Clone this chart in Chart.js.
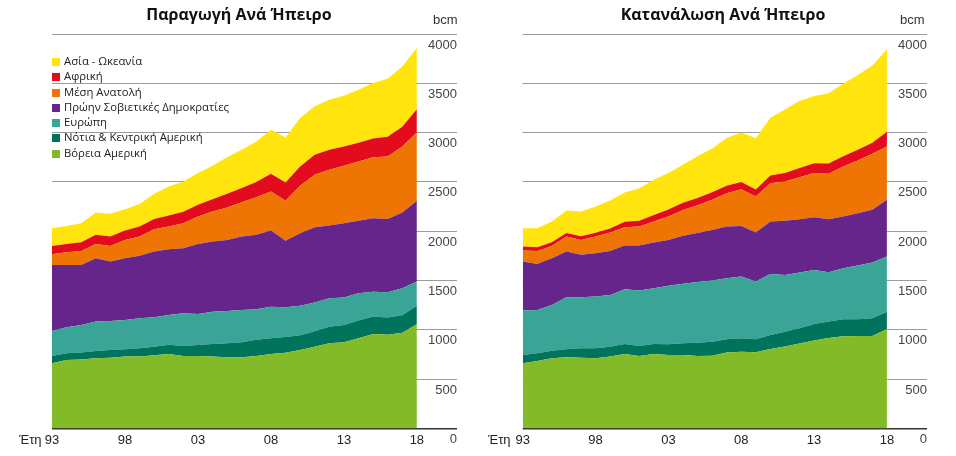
<!DOCTYPE html>
<html>
<head>
<meta charset="utf-8">
<script src="https://cdn.jsdelivr.net/npm/chart.js@4.4.1/dist/chart.umd.min.js"></script>
<style>
  body { margin: 0; background: #fff; }
  #wrap { position: relative; width: 956px; height: 456px; overflow: hidden; }
  .panel { position: absolute; top: 0; width: 478px; height: 456px; }
  .title { position: absolute; top: 3px; font: bold 16px "Open Sans", sans-serif; color: #111; white-space: nowrap; transform: translateX(-50%); }
  .unit { position: absolute; top: 12px; font: 13px "Liberation Sans", Arial, sans-serif; color: #333; }
  .years { position: absolute; top: 432px; font: 13px "Liberation Sans", Arial, sans-serif; color: #222; }
  #legend { position: absolute; left: 52px; top: 53px; font: 11.3px "Open Sans", sans-serif; color: #222; }
  #legend div { height: 15.3px; line-height: 15.3px; white-space: nowrap; }
  #legend span { display: inline-block; width: 8px; height: 8px; margin-right: 4px; vertical-align: -1px; }
</style>
</head>
<body>
<div id="wrap">
  <div class="panel" style="left:0"><canvas id="prodChart" width="478" height="456"></canvas></div>
  <div class="panel" style="left:478px"><canvas id="consChart" width="478" height="456"></canvas></div>
  <div class="title" style="left:239px">Παραγωγή Ανά Ήπειρο</div>
  <div class="title" style="left:723px">Κατανάλωση Ανά Ήπειρο</div>
  <div class="unit" style="left:433px">bcm</div>
  <div class="unit" style="left:900px">bcm</div>
  <div class="years" style="left:19px">Έτη</div>
  <div class="years" style="left:488px">Έτη</div>
  <div id="legend"></div>
</div>
<script>
const years = [1993,1994,1995,1996,1997,1998,1999,2000,2001,2002,2003,2004,2005,2006,2007,2008,2009,2010,2011,2012,2013,2014,2015,2016,2017,2018];
const yearTicks = [1993,1998,2003,2008,2013,2018];

const regions = ['Βόρεια Αμερική','Νότια & Κεντρική Αμερική','Ευρώπη','Πρώην Σοβιετικές Δημοκρατίες','Μέση Ανατολή','Αφρική','Ασία - Ωκεανία'];
const colors = ['#82ba28','#00735d','#3aa597','#66258a','#ee7404','#e30b1e','#ffe50d'];

// Παραγωγή (bcm)
const prodNorthAmerica = [660,694,700,711,717,728,728,741,755,734,734,728,721,721,734,755,768,795,829,863,873,914,958,951,971,1056];
const prodSouthAmerica = [74,67,71,74,78,74,84,88,94,102,112,128,142,154,166,160,160,150,156,169,176,181,177,174,177,189];
const prodEurope = [254,264,278,298,295,298,305,298,302,331,315,328,328,326,308,320,300,300,291,288,278,275,252,256,273,244];
const prodFormerUSSR = [670,633,609,643,602,626,633,667,666,660,710,711,721,745,755,772,674,735,765,737,754,735,745,744,768,819];
const prodMiddleEast = [108,129,142,145,159,186,196,226,230,254,278,305,328,348,382,396,406,480,531,566,582,602,619,633,670,694];
const prodAfrica = [85,84,88,92,95,95,101,105,112,115,118,125,140,145,155,180,186,197,203,203,196,190,190,200,200,236];
const prodAsia = [179,183,193,226,230,216,230,254,294,308,322,338,371,387,410,446,457,490,491,507,515,538,561,588,611,620];

// Κατανάλωση (bcm)
const consNorthAmerica = [660,684,711,721,717,711,728,755,734,755,744,744,734,738,770,778,772,805,830,862,892,918,935,938,938,1008];
const consSouthAmerica = [84,77,77,81,95,101,101,101,102,101,109,119,134,142,133,136,131,142,151,153,167,165,172,169,179,176];
const consEurope = [451,440,464,528,518,525,525,555,562,565,593,604,618,619,620,626,586,620,576,565,548,501,517,544,565,559];
const consFormerUSSR = [497,467,474,464,430,440,446,443,456,464,466,488,497,514,524,514,497,531,548,542,535,538,525,532,535,575];
const consMiddleEast = [112,132,125,152,152,169,186,187,193,213,237,261,280,305,339,372,366,389,399,424,447,460,507,534,568,541];
const consAfrica = [40,37,36,36,36,38,42,55,60,66,70,72,74,76,74,72,70,78,85,95,100,105,105,108,112,150];
const consAsia = [186,193,211,228,252,266,283,296,329,357,370,385,423,446,484,502,520,585,646,679,681,713,734,760,783,836];

function buildDatasets(series) {
  return series.map((values, i) => ({
    label: regions[i],
    data: years.map((yr, j) => ({ x: yr, y: values[j] })),
    backgroundColor: colors[i],
    borderWidth: 0,
    pointRadius: 0,
    tension: 0,
    fill: i === 0 ? 'origin' : '-1'
  }));
}

function makeChart(id, series, padLeft, padRight) {
  const ctx = document.getElementById(id).getContext('2d');
  return new Chart(ctx, {
    type: 'line',
    data: { datasets: buildDatasets(series) },
    options: {
      responsive: false,
      animation: false,
      layout: { padding: { left: padLeft, right: padRight, top: 34, bottom: 4 } },
      plugins: { legend: { display: false }, tooltip: { enabled: false } },
      scales: {
        x: {
          type: 'linear',
          min: 1993,
          max: 2020.75,
          grid: { display: false, drawTicks: false },
          border: { display: false },
          afterBuildTicks: axis => { axis.ticks = yearTicks.map(v => ({ value: v })); },
          ticks: {
            padding: 4,
            color: '#222',
            font: { family: '"Liberation Sans", Arial, sans-serif', size: 13 },
            callback: v => String(v).slice(2)
          }
        },
        y: {
          position: 'right',
          stacked: true,
          min: 0,
          max: 4000,
          border: { display: false },
          grid: {
            drawTicks: false,
            color: c => c.tick && c.tick.value === 0 ? '#333' : '#9c9c9c',
            lineWidth: c => c.tick && c.tick.value === 0 ? 1.6 : 1
          },
          ticks: {
            stepSize: 500,
            mirror: true,
            padding: 0,
            labelOffset: 11,
            color: '#444',
            font: { family: '"Liberation Sans", Arial, sans-serif', size: 13 },
            callback: v => String(v)
          }
        }
      }
    }
  });
}

makeChart('prodChart',
  [prodNorthAmerica, prodSouthAmerica, prodEurope, prodFormerUSSR, prodMiddleEast, prodAfrica, prodAsia],
  52, 21);
makeChart('consChart',
  [consNorthAmerica, consSouthAmerica, consEurope, consFormerUSSR, consMiddleEast, consAfrica, consAsia],
  44.7, 29);

// Υπόμνημα
const legend = document.getElementById('legend');
for (let i = regions.length - 1; i >= 0; i--) {
  legend.innerHTML += `<div><span style="background:${colors[i]}"></span>${regions[i]}</div>`;
}
</script>
</body>
</html>
